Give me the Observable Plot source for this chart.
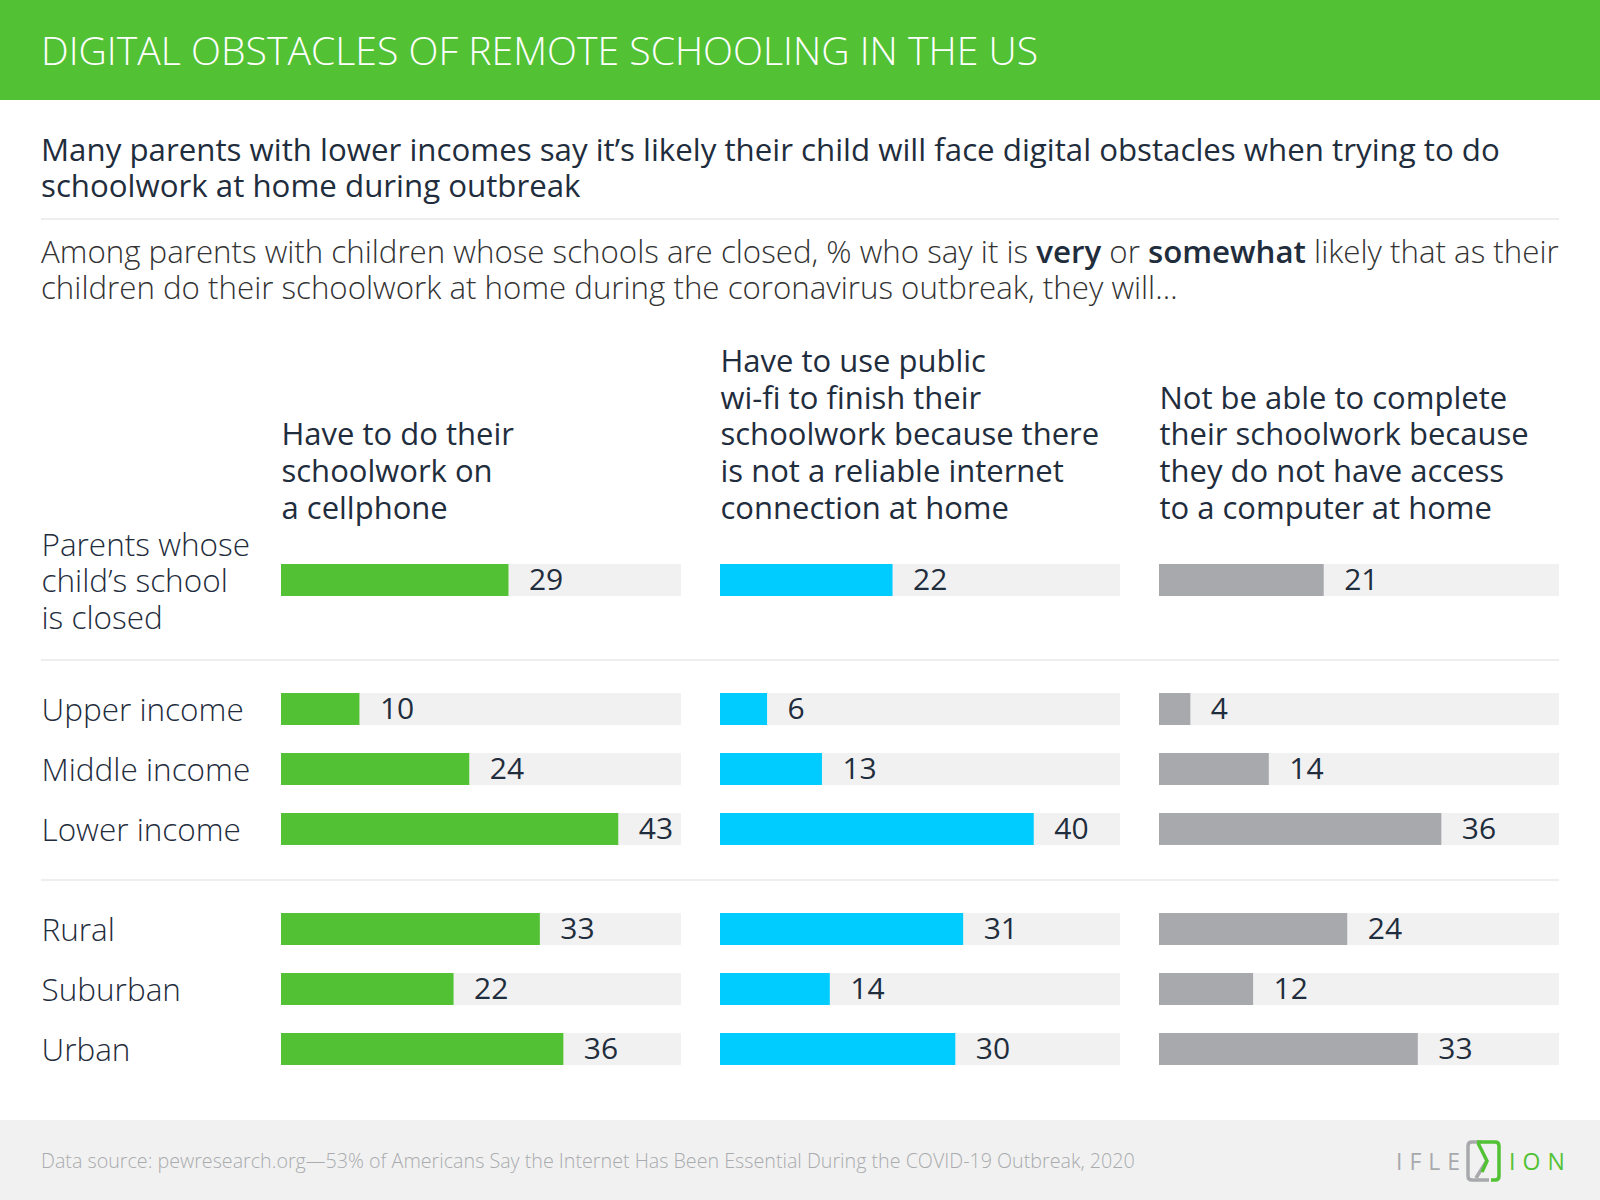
<!DOCTYPE html>
<html><head><meta charset="utf-8">
<script src="https://cdn.jsdelivr.net/npm/d3@7"></script>
<script src="https://cdn.jsdelivr.net/npm/@observablehq/plot@0.6"></script>
<style>
body{margin:0;width:1600px;height:1200px;position:relative;background:#fff;font-family:"Open Sans",sans-serif;overflow:hidden}
.abs{position:absolute}
.line{position:absolute;left:41px;white-space:nowrap;line-height:34px;height:34px;transform-origin:0 50%}
.sep{position:absolute;left:41px;width:1518px;height:2px;background:#eeeeee}
b{font-weight:600;color:#1f2d3d}
</style></head><body>
<div class="abs" style="left:0;top:0;width:1600px;height:100px;background:#52c234"></div>
<div class="line fit" data-w="997" data-mode="scale" style="top:28px;height:44px;line-height:44px;color:#fff;font-weight:300;font-size:39px">DIGITAL OBSTACLES OF REMOTE SCHOOLING IN THE US</div>
<div class="line fit" data-w="1459" style="top:132px;color:#1f2d3d;font-size:29px">Many parents with lower incomes say it’s likely their child will face digital obstacles when trying to do</div>
<div class="line" id="sub2" style="top:168px;color:#1f2d3d;font-size:29px">schoolwork at home during outbreak</div>
<div class="sep" style="top:218px"></div>
<div class="line fit" data-w="1518" style="top:234px;color:#333;font-weight:300;font-size:29px">Among parents with children whose schools are closed, % who say it is <b>very</b> or <b>somewhat</b> likely that as their</div>
<div class="line" id="desc2" style="top:270px;color:#333;font-weight:300;font-size:29px">children do their schoolwork at home during the coronavirus outbreak, they will…</div>
<div id="p1" class="abs" style="left:0;top:286px"></div>
<div class="sep" style="top:659px"></div>
<div id="p2" class="abs" style="left:0;top:665px"></div>
<div class="sep" style="top:879px"></div>
<div id="p3" class="abs" style="left:0;top:885px"></div>
<div class="abs" style="left:0;top:1120px;width:1600px;height:80px;background:#f1f1f1"></div>
<div class="line fit" data-w="1095" style="top:1149px;height:24px;line-height:24px;color:#a9abae;font-weight:300;font-size:19px">Data source: pewresearch.org—53% of Americans Say the Internet Has Been Essential During the COVID-19 Outbreak, 2020</div>
<div class="abs" style="left:1396px;top:1140px;height:42px;display:flex;align-items:center;font-size:23px;letter-spacing:7px;font-family:'Open Sans'">
  <span style="color:#a7a9ac">IFLE</span>
  <svg width="38" height="42" viewBox="0 0 38 42" style="margin:0 6px 0 -2px">
    <path d="M16,2 H7 Q3,2 3,6 V36 Q3,40 7,40 H24" fill="none" stroke="#a7a9ac" stroke-width="3.5"/>
    <path d="M21,22 L11,38" fill="none" stroke="#a7a9ac" stroke-width="3.5"/>
    <path d="M12,2 H30 Q34,2 34,6 V36 Q34,40 30,40 H26" fill="none" stroke="#52c234" stroke-width="3.5"/>
    <path d="M13,3 L22,21 L17,32" fill="none" stroke="#52c234" stroke-width="3.5"/>
  </svg>
  <span style="color:#52c234">ION</span>
</div>
<script>
const columnKeys = ["cellphone", "wifi", "computer"];
const columnTitles = [
  "Have to do their\nschoolwork on\na cellphone",
  "Have to use public\nwi-fi to finish their\nschoolwork because there\nis not a reliable internet\nconnection at home",
  "Not be able to complete\ntheir schoolwork because\nthey do not have access\nto a computer at home"
];
const rowLabels = ["Parents whose\nchild’s school\nis closed", "Upper income", "Middle income", "Lower income", "Rural", "Suburban", "Urban"];
const cellphone = [29, 10, 24, 43, 33, 22, 36];
const wifi = [22, 6, 13, 40, 31, 14, 30];
const computer = [21, 4, 14, 36, 24, 12, 33];
const groups = [[0], [1, 2, 3], [4, 5, 6]];
const colors = ["#52c234", "#00ccff", "#a7a9ac"];
const xMax = 51;

const series = {cellphone, wifi, computer};
const table = rowLabels.flatMap((r, i) => columnKeys.map(k => ({row: r, col: k, value: series[k][i]})));

function panel(rowIdx, withHeaders) {
  const rows = rowIdx.map(i => rowLabels[i]);
  const data = table.filter(d => rows.includes(d.row));
  const marginTop = withHeaders ? 250 : 0;
  const step = 60, pad = 0.467;
  const h = Math.round(marginTop + step * (rows.length + pad));
  return Plot.plot({
    width: 1600, height: h,
    marginLeft: 281, marginRight: 41, marginTop, marginBottom: 0,
    style: {fontFamily: "Open Sans", overflow: "visible", background: "transparent"},
    fx: {domain: columnKeys, paddingInner: 0.0888, paddingOuter: 0, round: false, axis: null},
    x: {domain: [0, xMax], axis: null},
    y: {domain: rows, padding: pad, round: false, axis: null},
    color: {domain: columnKeys, range: colors},
    marks: [
      Plot.barX(data, {fx: "col", y: "row", x1: 0, x2: xMax, fill: "#f1f1f1"}),
      Plot.barX(data, {fx: "col", y: "row", x: "value", fill: "col"}),
      Plot.text(data, {fx: "col", y: "row", x: "value", text: d => String(d.value), textAnchor: "start", dx: 20, fontSize: 30, fill: "#1f2d3d"}),
      Plot.text(rows, {fx: () => columnKeys[0], y: d => d, text: d => d, frameAnchor: "left", textAnchor: "start", dx: -240, fontSize: 31.5, fontWeight: 300, lineHeight: 1.16, fill: "#1f2d3d"}),
      withHeaders ? Plot.text(columnKeys, {fx: d => d, text: (d, i) => columnTitles[i], frameAnchor: "top-left", textAnchor: "start", lineAnchor: "bottom", dy: -18, fontSize: 31, lineHeight: 1.18, fill: "#1f2d3d"}) : null
    ]
  });
}
document.getElementById("p1").append(panel(groups[0], true));
document.getElementById("p2").append(panel(groups[1], false));
document.getElementById("p3").append(panel(groups[2], false));

// fit HTML text lines to the reference widths
document.querySelectorAll(".fit").forEach(el => {
  const target = +el.dataset.w;
  const w = el.getBoundingClientRect().width;
  if (el.dataset.mode === "scale") {
    el.style.transform = `scaleX(${target / w})`;
  } else {
    const fs = parseFloat(getComputedStyle(el).fontSize) * target / w;
    el.style.fontSize = fs + "px";
    const next = {"Many": "sub2", "Among": "desc2"}[el.textContent.trim().split(" ")[0]];
    if (next) document.getElementById(next).style.fontSize = fs + "px";
  }
});
</script>
</body></html>
